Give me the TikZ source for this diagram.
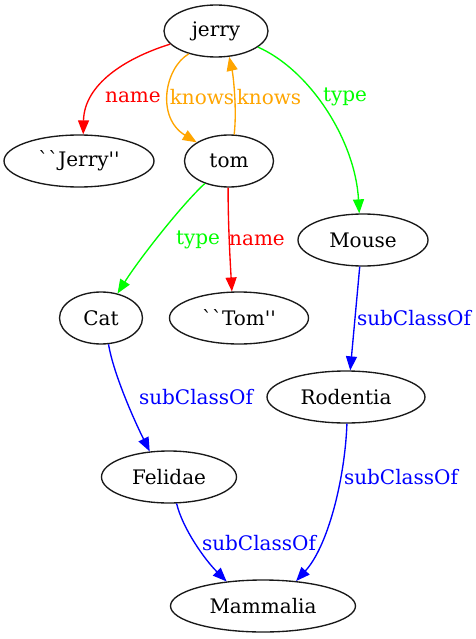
\documentclass[tikz,border=0pt]{standalone}
\usepackage{fontspec}
\newfontfamily\dotfont{DejaVu Serif}
\usetikzlibrary{shapes.geometric,arrows.meta}
\definecolor{dotred}{RGB}{255,0,0}
\definecolor{dotorange}{RGB}{255,165,0}
\definecolor{dotgreen}{RGB}{0,255,0}
\definecolor{dotblue}{RGB}{0,0,255}

\begin{document}
\begin{tikzpicture}
      [ x = 1pt, y = -1pt
      , every node/.style =
        { font = \dotfont\fontsize{20}{24}\selectfont }
      , entity/.style =
        { draw = black!90, ellipse, line width = 1.35pt, inner sep = 0pt
        , minimum height = 52pt, minimum width = #1 }
      , edge/.style =
        { line width = 1.35pt, -{Triangle[length=14pt, width=11pt]} }
      , lbl/.style =
        { inner sep = 0pt }
      ]
      \useasboundingbox (0,0) rectangle (475,639);
      \node [entity=104pt] (jerry) at (216, 31) {jerry};
      \node [entity=150pt] (jerrylit) at (79, 161) {``Jerry''};
      \node [entity=89pt] (tom) at (229, 161) {tom};
      \node [entity=130pt] (mouse) at (363, 240) {Mouse};
      \node [entity=83pt] (cat) at (101, 318) {Cat};
      \node [entity=139pt] (tomlit) at (239, 318) {``Tom''};
      \node [entity=158pt] (rodentia) at (346, 397) {Rodentia};
      \node [entity=135pt] (felidae) at (169, 477) {Felidae};
      \node [entity=185pt] (mammalia) at (263, 606) {Mammalia};
      \node [lbl,dotred] (l1) at (133, 97) {name};
      \node [lbl,dotorange] (l2) at (202, 97) {knows};
      \node [lbl,dotorange] (l3) at (269, 97) {knows};
      \node [lbl,dotgreen] (l4) at (345, 97) {type};
      \node [lbl,dotgreen] (l5) at (198, 240) {type};
      \node [lbl,dotred] (l6) at (257, 240) {name};
      \node [lbl,dotblue] (l7) at (414, 318) {subClassOf};
      \node [lbl,dotblue] (l8) at (196, 397) {subClassOf};
      \node [lbl,dotblue] (l9) at (401, 477) {subClassOf};
      \node [lbl,dotblue] (l10) at (259, 543) {subClassOf};
      \draw [edge,dotred] (jerry.196) .. controls +(-45,14) and +(1,-50) .. (jerrylit.81);
      \draw [edge,dotorange] (jerry.220) .. controls +(-24,14) and +(-41,-25) .. (tom.150);
      \draw [edge,dotorange] (tom.79) .. controls +(3,-25) and +(4,18) .. (jerry.297);
      \draw [edge,dotgreen] (jerry.339) .. controls +(52,23) and +(-4,-73) .. (mouse.98);
      \draw [edge,dotgreen] (tom.223) .. controls +(-22,20) and +(22,-35) .. (cat.56);
      \draw [edge,dotred] (tom.268) .. controls +(0,35) and +(-2,-35) .. (tomlit.105);
      \draw [edge,dotblue] (mouse.263) -- (rodentia.81);
      \draw [edge,dotblue] (cat.286) .. controls +(5,30) and +(-15,-30) .. (felidae.127);
      \draw [edge,dotblue] (rodentia.272) .. controls +(-2,55) and +(32,-35) .. (mammalia.37);
      \draw [edge,dotblue] (felidae.286) .. controls +(6,25) and +(-22,-22) .. (mammalia.146);
    \end{tikzpicture}
\end{document}
